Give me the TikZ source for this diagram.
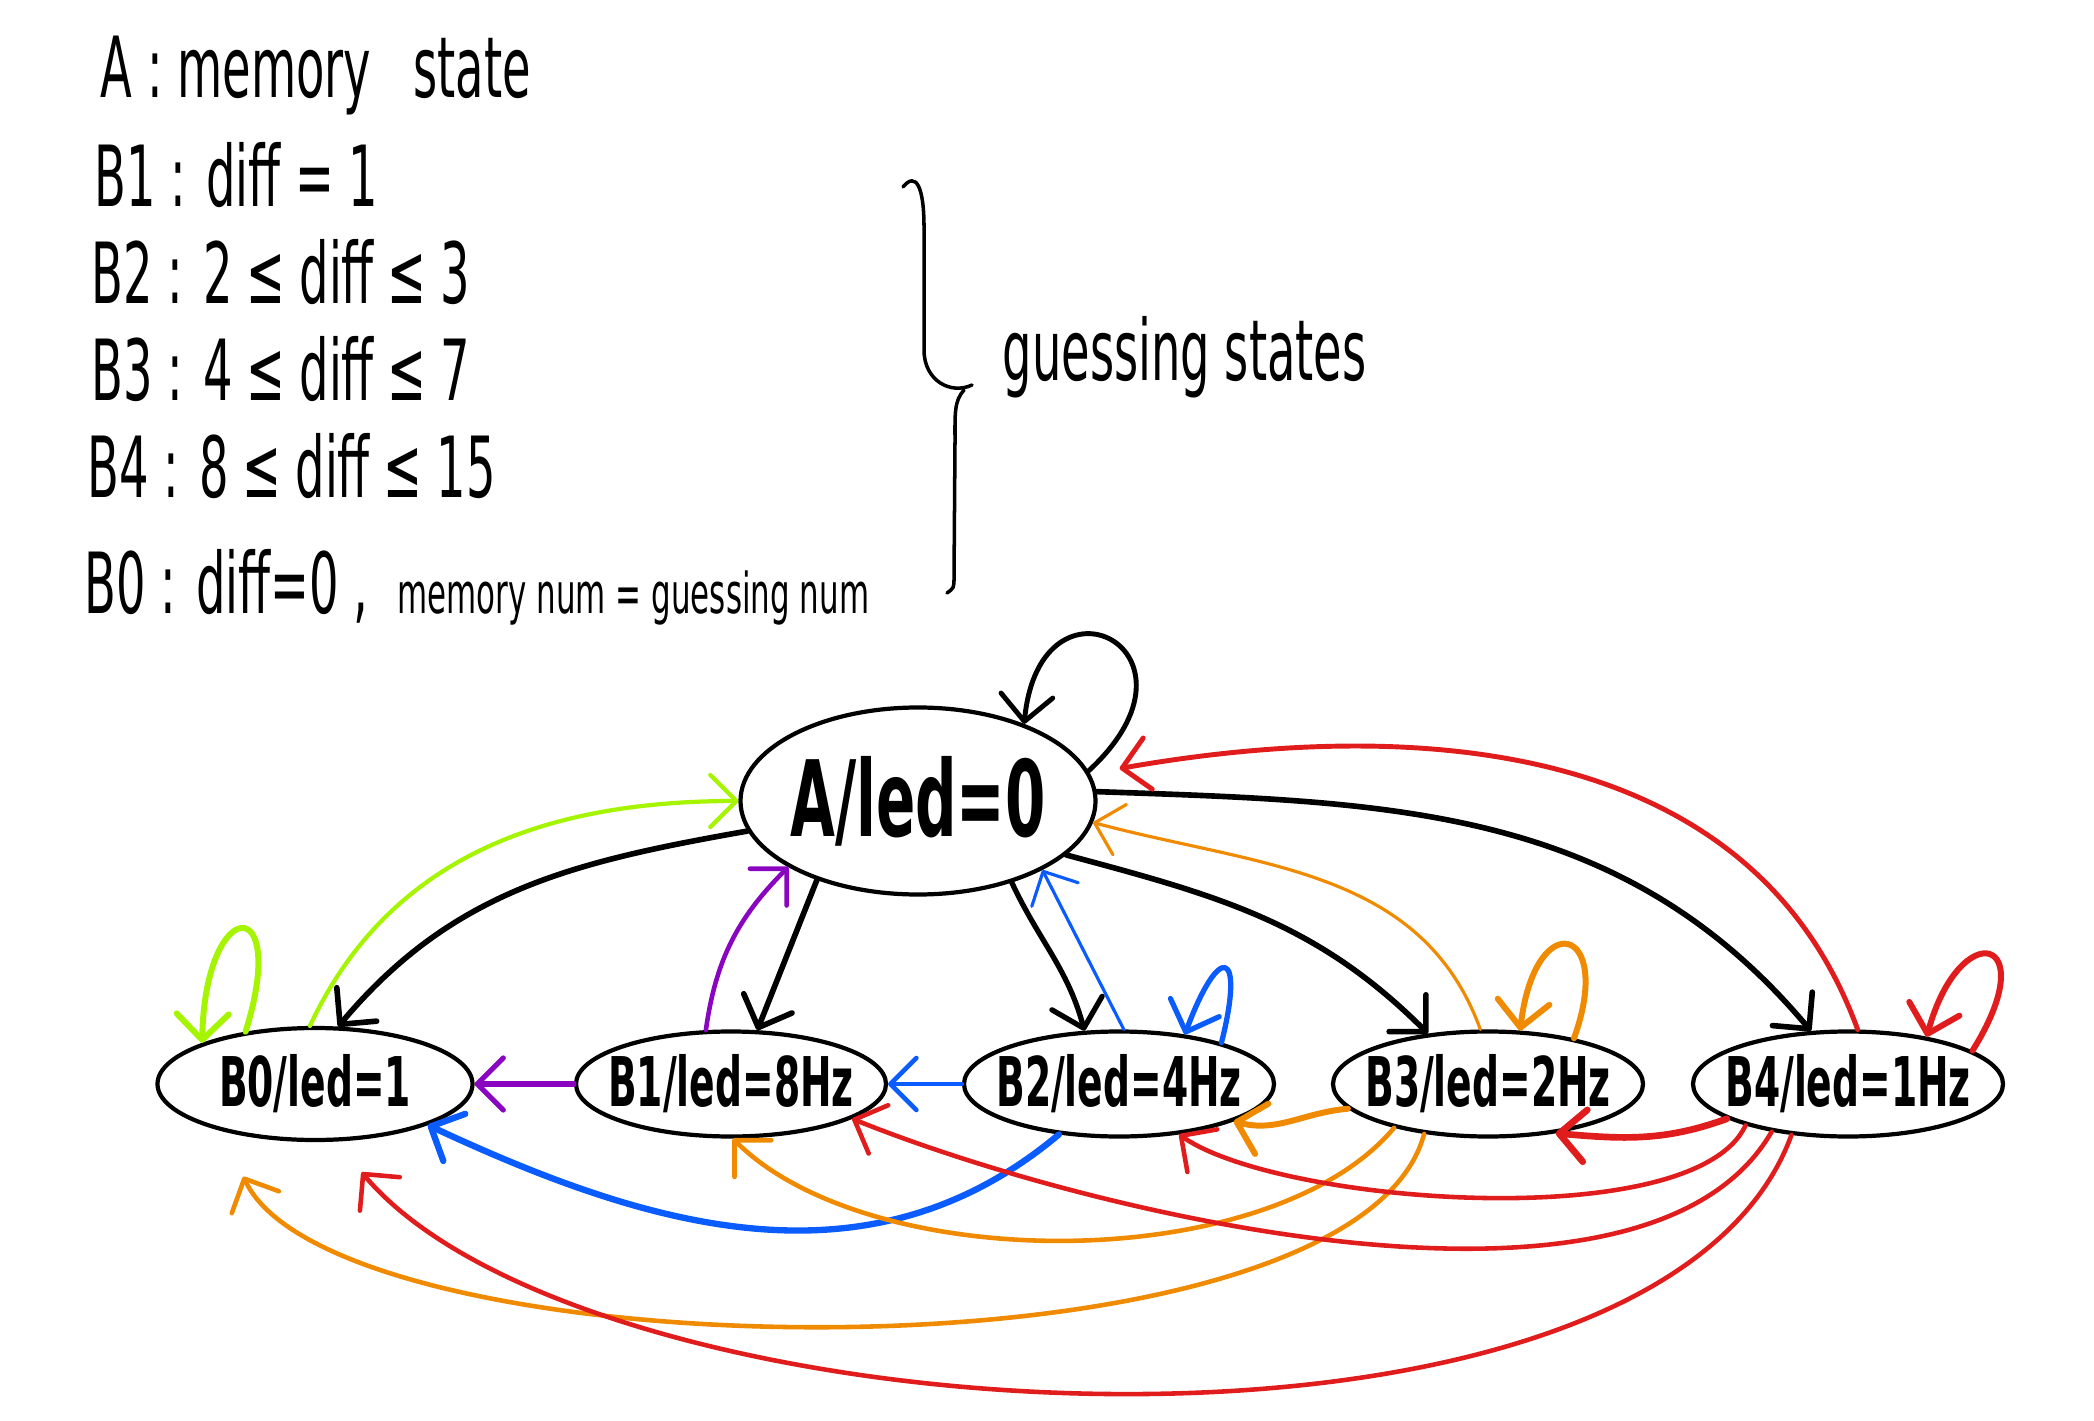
\documentclass[tikz,border=0pt]{standalone}
\usepackage{fontspec}
\usepackage{tikz}
\usetikzlibrary{shapes.geometric,arrows.meta}
\newfontfamily\handfont[FakeStretch=0.55]{DejaVu Sans}
\definecolor{clime}{HTML}{A6F500}
\definecolor{cpurple}{HTML}{8A05C0}
\definecolor{cblue}{HTML}{0A5CFF}
\definecolor{corange}{HTML}{F08A00}
\definecolor{cred}{HTML}{E01C1C}

\begin{document}
\begin{tikzpicture}[
    line cap=round,
    line join=round,
    >={Straight Barb[length=2.6mm,width=5.2mm,round]},
    every node/.style={font=\handfont},
    legendtext/.style={anchor=base west, inner sep=0pt, font=\handfont\fontsize{24}{28}\selectfont},
    state/.style={draw, ellipse, line width=1.2pt, inner sep=0pt,
        minimum width=3.1cm, minimum height=1.05cm},
    statetext/.style={font=\handfont\bfseries\fontsize{19.5}{24}\selectfont},
    trans/.style={->, line width=#1},
    trans/.default=1.4pt
]
\useasboundingbox (0,0) rectangle (20.94,14.2);
%====================================================
% LEGEND
%====================================================
\node[legendtext] (lA) at (1.00,13.22) {A : memory\enspace state};
\node[legendtext] (lB1) at (0.94,12.13) {B1 : diff = 1};
\node[legendtext] (lB2) at (0.91,11.16) {B2 : 2\,≤\,diff\,≤\,3};
\node[legendtext] (lB3) at (0.91,10.19) {B3 : 4\,≤\,diff\,≤\,7};
\node[legendtext] (lB4) at (0.87,9.22) {B4 : 8\,≤\,diff\,≤\,15};
\node[legendtext] (lB0) at (0.84,8.06) {B0 : diff=0 ,};
\node[legendtext, font=\handfont\fontsize{16}{18}\selectfont] (lnum) at (3.97,8.06) {memory num = guessing num};

% brace
\draw[line width=1pt] (9.03,12.33) .. controls (9.16,12.49) and (9.24,12.33) .. (9.24,11.93)
    -- (9.24,10.70) .. controls (9.24,10.39) and (9.51,10.25) .. (9.72,10.35);
\draw[line width=1pt] (9.64,10.30) .. controls (9.54,10.19) and (9.55,10.06) .. (9.55,9.79)
    -- (9.54,8.43) .. controls (9.54,8.32) .. (9.47,8.27);
\node[legendtext] (lguess) at (10.02,10.39) {guessing states};

%====================================================
% STATES
%====================================================
\node[state, minimum width=3.55cm, minimum height=1.87cm,
    label={[font=\handfont\bfseries\fontsize{30}{34}\selectfont]center:A/led=0}] (A) at (9.18,6.19) {};
\node[state, minimum width=3.15cm, minimum height=1.12cm,
    label={[statetext]center:B0/led=1}] (B0) at (3.15,3.36) {};
\node[state, label={[statetext]center:B1/led=8Hz}] (B1) at (7.31,3.36) {};
\node[state, label={[statetext]center:B2/led=4Hz}] (B2) at (11.19,3.36) {};
\node[state, label={[statetext]center:B3/led=2Hz}] (B3) at (14.88,3.36) {};
\node[state, label={[statetext]center:B4/led=1Hz}] (B4) at (18.48,3.36) {};

%====================================================
% FROM A
%====================================================
\draw[trans=1.6pt] (A.190) to[out=190,in=50] (B0.68);
\draw[trans=1.6pt] (A.218) -- (B1.64);
\draw[trans=1.5pt] (A.319) to[out=-65,in=105] (B2.123);
\draw[trans=1.6pt] (A.340) to[out=-15,in=135] (B3.140);
\draw[trans=1.6pt] (A.3) to[out=-2,in=130] (B4.125);
\draw[trans=1.4pt] (A.10) .. controls (12.2,7.7) and (10.4,8.6) .. (A.36);

%====================================================
% FROM B0, B1
%====================================================
\draw[clime, trans=1.2pt] (B0.95) to[out=65,in=180] (A.180);
\draw[clime, trans=1.7pt] (B0.143) .. controls (2.9,5.3) and (2.05,5.25) .. (B0.160);
\draw[cpurple, trans=1.3pt] (B1.115) to[out=82,in=225] (A.207);
\draw[cpurple, trans=1.5pt] (B1.west) -- (B0.east);

%====================================================
% FROM B2
%====================================================
\draw[cblue, trans=0.9pt] (B2.85) -- (A.331);
\draw[cblue, trans=1.5pt] (B2.22) .. controls (12.45,4.7) and (12.2,4.8) .. (B2.37);
\draw[cblue, trans=1.3pt] (B2.west) -- (B1.east);
\draw[cblue, trans=1.8pt] (B2.220) to[out=220,in=-25] (B0.340);

%====================================================
% FROM B3
%====================================================
\draw[corange, trans=0.9pt] (B3.98) to[out=110,in=-15] (A.353);
\draw[corange, trans=1.7pt] (B3.28) .. controls (16.15,4.95) and (15.35,5.15) .. (B3.59);
\draw[corange, trans=1.7pt] (B3.190) to[out=185,in=-15] (B2.342);
\draw[corange, trans=1.3pt] (B3.205) to[out=230,in=-45,looseness=0.75] (B1.272);
\draw[corange, trans=1.3pt, shorten >=0.5cm] (B3.218) to[out=255,in=-65,looseness=0.57] (B0.207);

%====================================================
% FROM B4
%====================================================
\draw[cred, trans=1.4pt, shorten >=0.3cm] (B4.80) to[out=110,in=10] (A.9);
\draw[cred, trans=1.7pt] (B4.15) .. controls (20.45,4.85) and (19.6,5.05) .. (B4.31);
\draw[cred, trans=1.9pt] (B4.196) to[out=200,in=-5] (B3.324);
\draw[cred, trans=1.3pt] (B4.202) to[out=245,in=-35,looseness=0.55] (B2.320);
\draw[cred, trans=1.3pt] (B4.212) to[out=240,in=-22,looseness=0.7] (B1.344);
\draw[cred, trans=1.3pt, shorten >=0.4cm] (B4.222) to[out=250,in=-50,looseness=0.69] (B0.290);
\end{tikzpicture}
\end{document}
